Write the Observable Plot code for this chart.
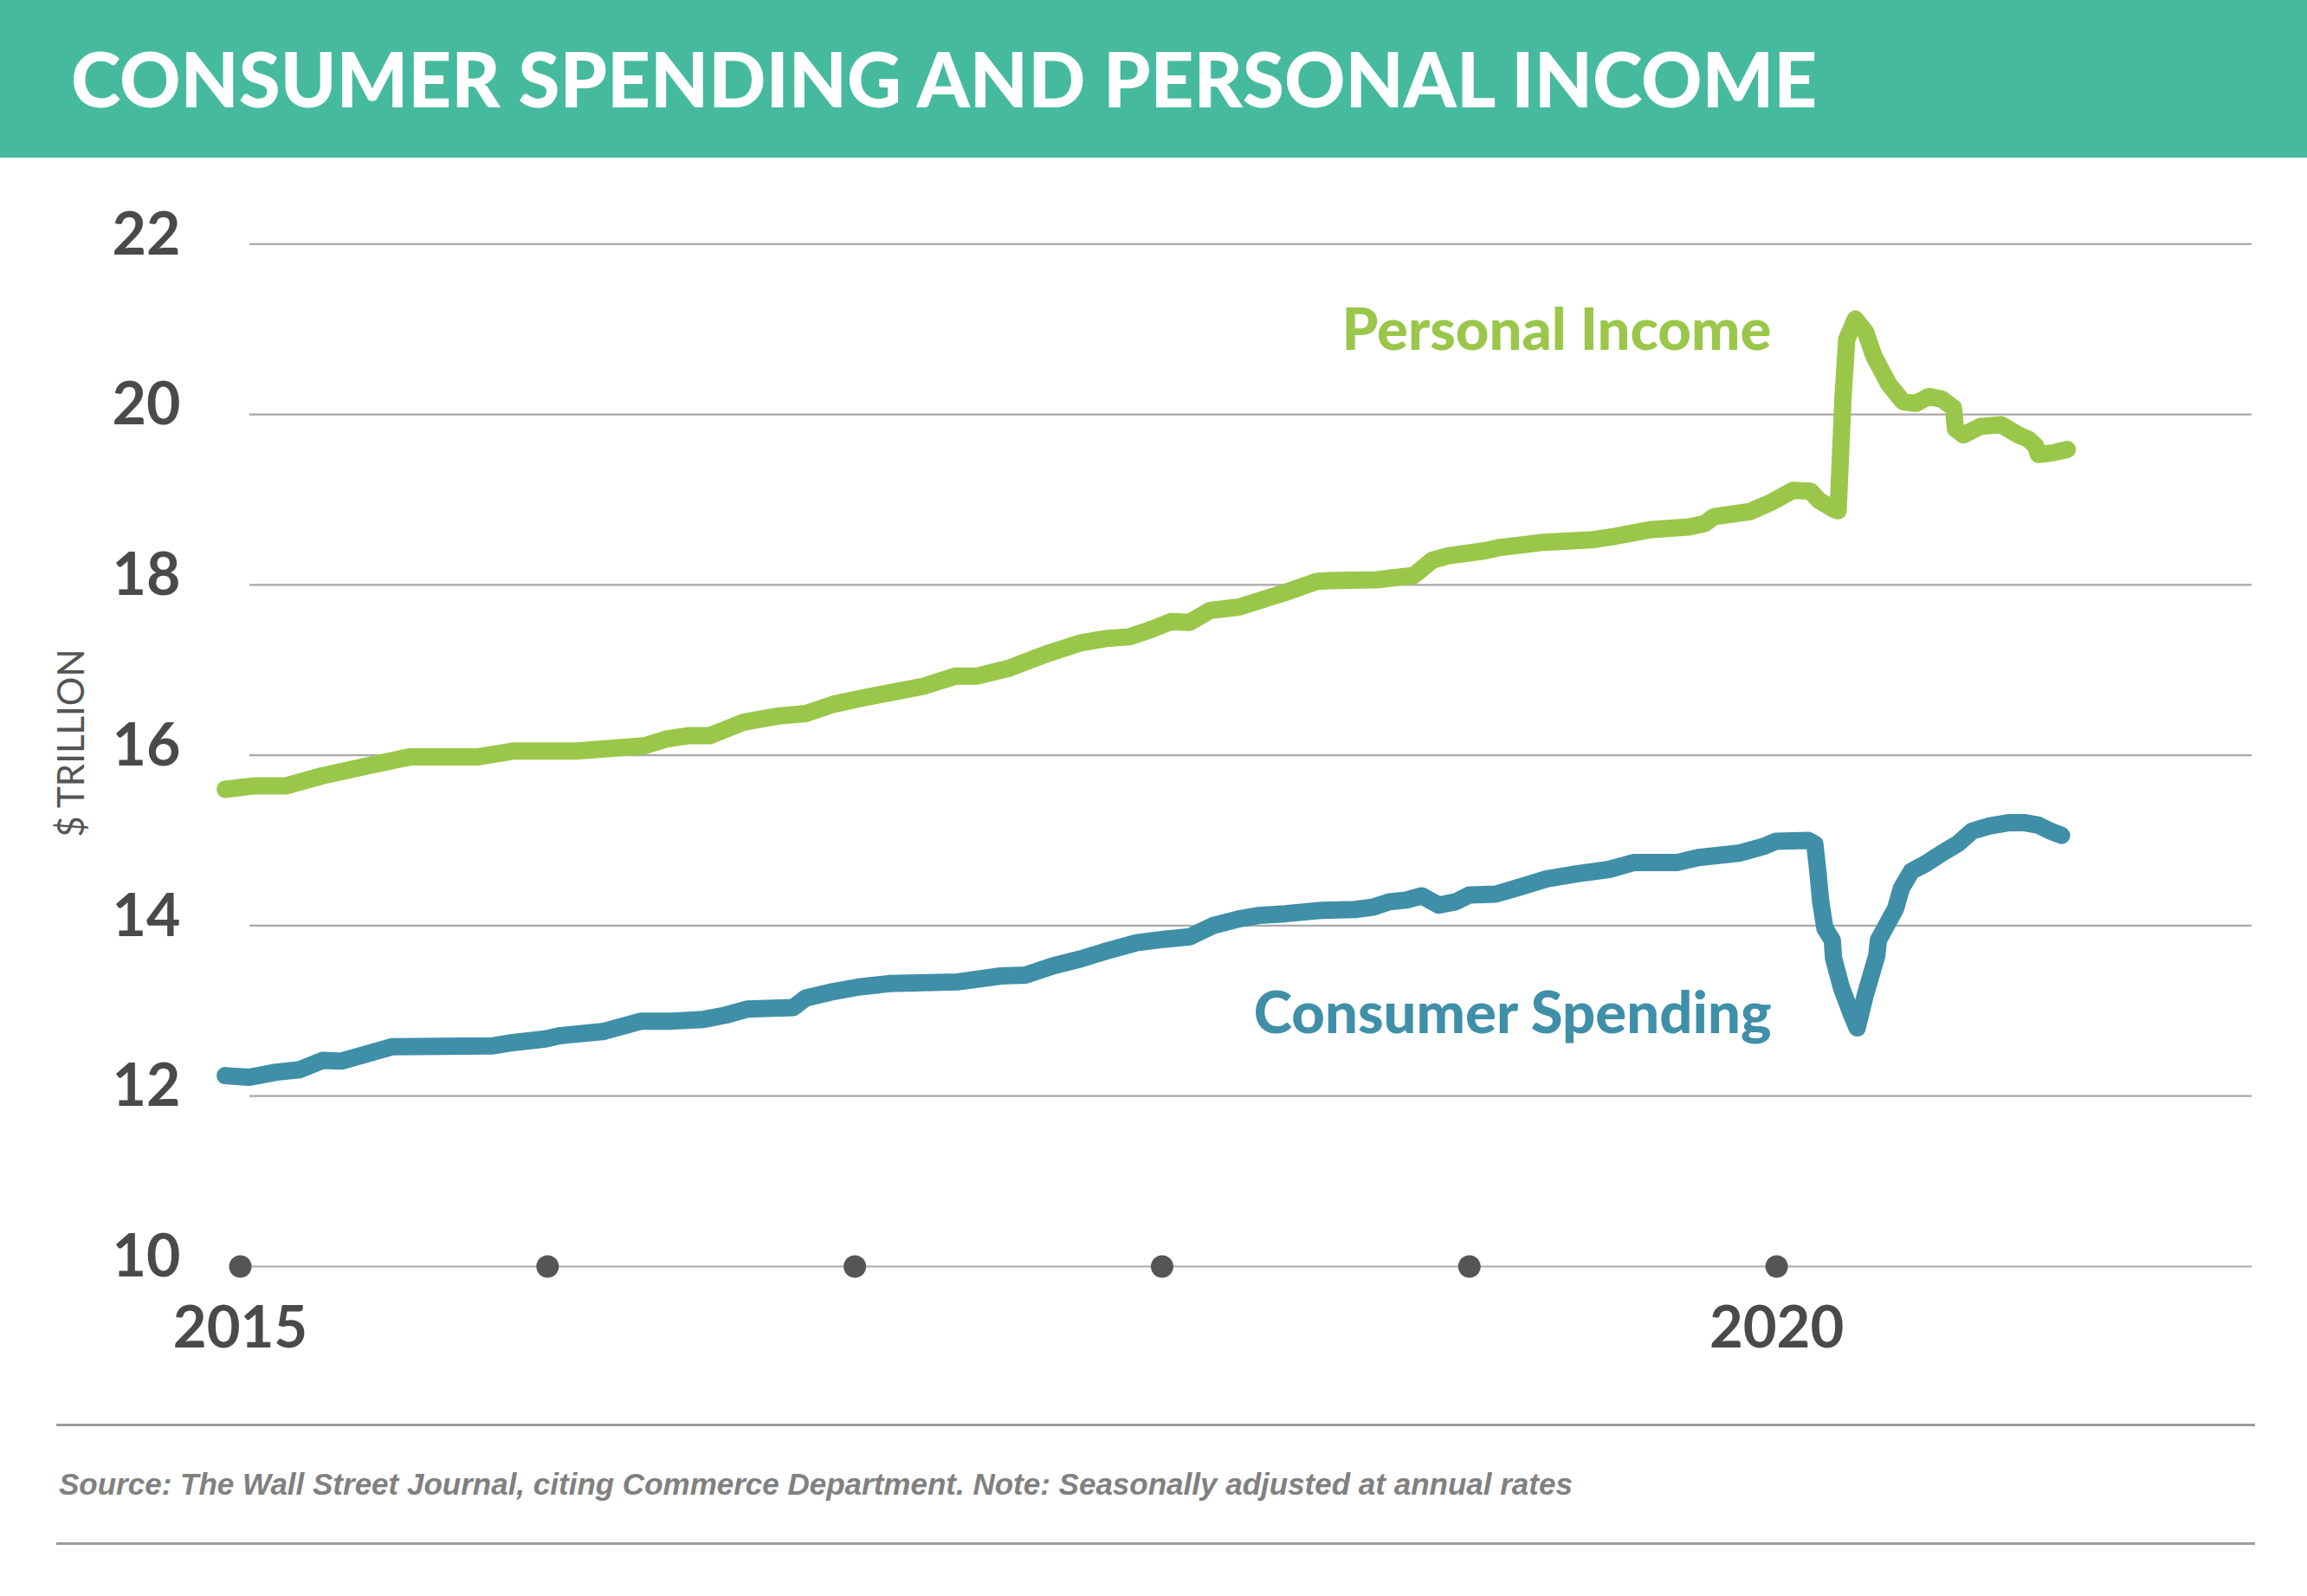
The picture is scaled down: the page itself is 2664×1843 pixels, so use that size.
<!DOCTYPE html>
<html>
<head>
<meta charset="utf-8">
<script src="https://cdn.jsdelivr.net/npm/d3@7"></script>
<script src="https://cdn.jsdelivr.net/npm/@observablehq/plot@0.6"></script>
<style>
  html, body { margin: 0; padding: 0; background: #ffffff; }
  body { width: 2664px; height: 1843px; position: relative; overflow: hidden; font-family: Lato, "Open Sans", sans-serif; }
  #header { position: absolute; left: 0; top: 0; width: 2664px; height: 182px; background: #46BA9F; }
  #title { position: absolute; left: 82px; top: 0; margin: 0; line-height: 182px; font-size: 87px; font-weight: 900; color: #ffffff; white-space: nowrap; font-family: Lato, sans-serif; }
  #chart { position: absolute; left: 0; top: 182px; }
  .rule { position: absolute; left: 65px; width: 2539px; height: 3px; background: #9c9c9c; }
  #source { position: absolute; left: 68px; top: 1694px; line-height: 40px; font-family: "Liberation Sans", Arial, sans-serif; font-style: italic; font-weight: 700; font-size: 35px; color: #808080; white-space: nowrap; }
</style>
</head>
<body>
<div id="header"><h1 id="title">CONSUMER SPENDING AND PERSONAL INCOME</h1></div>
<div id="chart"></div>
<div class="rule" style="top:1644px"></div>
<div id="source">Source: The Wall Street Journal, citing Commerce Department. Note: Seasonally adjusted at annual rates</div>
<div class="rule" style="top:1781px"></div>
<script>
// ---- data, x = decimal year, values in $ trillion ----
const incomeYears = [
  2014.951, 2015.042, 2015.147, 2015.268, 2015.419, 2015.550, 2015.771, 2015.892, 2016.094, 2016.315,
  2016.386, 2016.458, 2016.528, 2016.639, 2016.750, 2016.840, 2016.931, 2017.022, 2017.122, 2017.223,
  2017.329, 2017.399, 2017.500, 2017.616, 2017.736, 2017.817, 2017.892, 2017.960, 2018.029, 2018.090,
  2018.156, 2018.250, 2018.400, 2018.503, 2018.543, 2018.699, 2018.819, 2018.880, 2018.930, 2019.051,
  2019.101, 2019.242, 2019.403, 2019.474, 2019.594, 2019.715, 2019.766, 2019.796, 2019.913, 2019.977,
  2020.053, 2020.110, 2020.138, 2020.185, 2020.200, 2020.216, 2020.228, 2020.256, 2020.289, 2020.317,
  2020.364, 2020.411, 2020.453, 2020.495, 2020.537, 2020.575, 2020.582, 2020.608, 2020.664, 2020.730,
  2020.786, 2020.819, 2020.843, 2020.852, 2020.899, 2020.946
];
const incomeValues = [
  15.60, 15.64, 15.64, 15.76, 15.88, 15.98, 15.98, 16.05, 16.05, 16.11,
  16.19, 16.23, 16.23, 16.39, 16.46, 16.49, 16.60, 16.67, 16.74, 16.81,
  16.93, 16.93, 17.02, 17.18, 17.32, 17.37, 17.39, 17.47, 17.57, 17.56,
  17.70, 17.74, 17.91, 18.04, 18.05, 18.06, 18.11, 18.29, 18.34, 18.40,
  18.44, 18.50, 18.53, 18.57, 18.65, 18.68, 18.72, 18.80, 18.86, 18.96,
  19.11, 19.10, 18.99, 18.89, 18.87, 20.21, 20.88, 21.12, 20.97, 20.68,
  20.36, 20.15, 20.13, 20.21, 20.18, 20.08, 19.83, 19.76, 19.86, 19.88,
  19.76, 19.71, 19.63, 19.53, 19.55, 19.59
];
const spendingYears = [
  2014.951, 2015.027, 2015.117, 2015.193, 2015.268, 2015.329, 2015.495, 2015.822, 2015.892, 2015.993,
  2016.043, 2016.184, 2016.305, 2016.406, 2016.508, 2016.579, 2016.649, 2016.800, 2016.840, 2016.921,
  2017.012, 2017.112, 2017.334, 2017.475, 2017.555, 2017.646, 2017.736, 2017.807, 2017.917, 2018.005,
  2018.090, 2018.165, 2018.250, 2018.315, 2018.400, 2018.520, 2018.628, 2018.689, 2018.739, 2018.794,
  2018.845, 2018.900, 2018.955, 2019.000, 2019.086, 2019.152, 2019.252, 2019.353, 2019.454, 2019.534,
  2019.675, 2019.745, 2019.876, 2019.957, 2019.997, 2020.103, 2020.124, 2020.134, 2020.143, 2020.157,
  2020.181, 2020.185, 2020.211, 2020.241, 2020.262, 2020.288, 2020.326, 2020.331, 2020.387, 2020.406,
  2020.439, 2020.486, 2020.537, 2020.589, 2020.636, 2020.692, 2020.758, 2020.805, 2020.852, 2020.890,
  2020.927
];
const spendingValues = [
  12.24, 12.22, 12.28, 12.31, 12.42, 12.41, 12.58, 12.59, 12.63, 12.67,
  12.71, 12.76, 12.88, 12.88, 12.90, 12.95, 13.02, 13.04, 13.15, 13.22,
  13.28, 13.32, 13.34, 13.41, 13.42, 13.53, 13.61, 13.69, 13.80, 13.84,
  13.87, 14.00, 14.08, 14.12, 14.14, 14.18, 14.19, 14.22, 14.28, 14.30,
  14.35, 14.24, 14.28, 14.36, 14.37, 14.44, 14.55, 14.61, 14.66, 14.74,
  14.74, 14.80, 14.85, 14.93, 14.99, 15.00, 14.96, 14.64, 14.29, 13.97,
  13.83, 13.62, 13.27, 12.98, 12.80, 13.18, 13.65, 13.83, 14.20, 14.44,
  14.64, 14.73, 14.85, 14.96, 15.11, 15.17, 15.21, 15.21, 15.18, 15.11,
  15.06
];
const yearDots = [2015, 2016, 2017, 2018, 2019, 2020];
const xTickLabels = [2015, 2020];
const yTicks = [10, 12, 14, 16, 18, 20, 22];
const seriesNames = ["Personal Income", "Consumer Spending"];
const seriesColors = ["#9AC74A", "#3F8FA8"];
const labelFromYear = 2020; // series labels sit beside the 2020 extremes

const income = incomeYears.map((t, i) => ({t, v: incomeValues[i]}));
const spending = spendingYears.map((t, i) => ({t, v: spendingValues[i]}));

const chart = Plot.plot({
  width: 2664,
  height: 1418,
  marginLeft: 288,
  marginRight: 64,
  marginTop: 99.3,
  marginBottom: 138,
  x: {type: "linear", domain: [2015.031, 2021.547]},
  y: {domain: [10, 22]},
  style: {fontFamily: "Lato, sans-serif", background: "transparent", overflow: "visible"},
  marks: [
    Plot.ruleY(yTicks, {stroke: "#a9a9a9", strokeWidth: 2.2}),
    Plot.axisY(yTicks, {tickSize: 0, tickPadding: 80, fontSize: 68, fontWeight: 700, color: "#4a4a4a", dy: -10, tickFormat: "d", label: null}),
    Plot.axisX(xTickLabels, {tickSize: 0, tickPadding: 46, fontSize: 67, fontWeight: 700, color: "#4a4a4a", tickFormat: "d", label: null}),
    Plot.dot(yearDots, {x: d => d, frameAnchor: "bottom", r: 13, fill: "#555555", stroke: null}),
    Plot.text(["$ TRILLION"], {text: d => d, frameAnchor: "left", textAnchor: "middle", lineAnchor: "middle", rotate: -90, dx: -205, dy: -14, fontSize: 42, fontWeight: 400, fill: "#555555"}),
    Plot.line(income, {x: "t", y: "v", stroke: seriesColors[0], strokeWidth: 20, strokeLinecap: "round", strokeLinejoin: "round"}),
    Plot.line(spending, {x: "t", y: "v", stroke: seriesColors[1], strokeWidth: 20, strokeLinecap: "round", strokeLinejoin: "round"}),
    Plot.text(income.filter(d => d.t > labelFromYear), Plot.selectMaxY({x: "t", y: "v", text: () => seriesNames[0], textAnchor: "end", lineAnchor: "bottom", dx: -97, dy: 36, fontSize: 67, fontWeight: 900, fill: seriesColors[0]})),
    Plot.text(spending.filter(d => d.t > labelFromYear), Plot.selectMinY({x: "t", y: "v", text: () => seriesNames[1], textAnchor: "end", lineAnchor: "bottom", dx: -99, dy: 6, fontSize: 67, fontWeight: 900, fill: seriesColors[1]}))
  ]
});
document.getElementById("chart").appendChild(chart);
</script>
</body>
</html>
